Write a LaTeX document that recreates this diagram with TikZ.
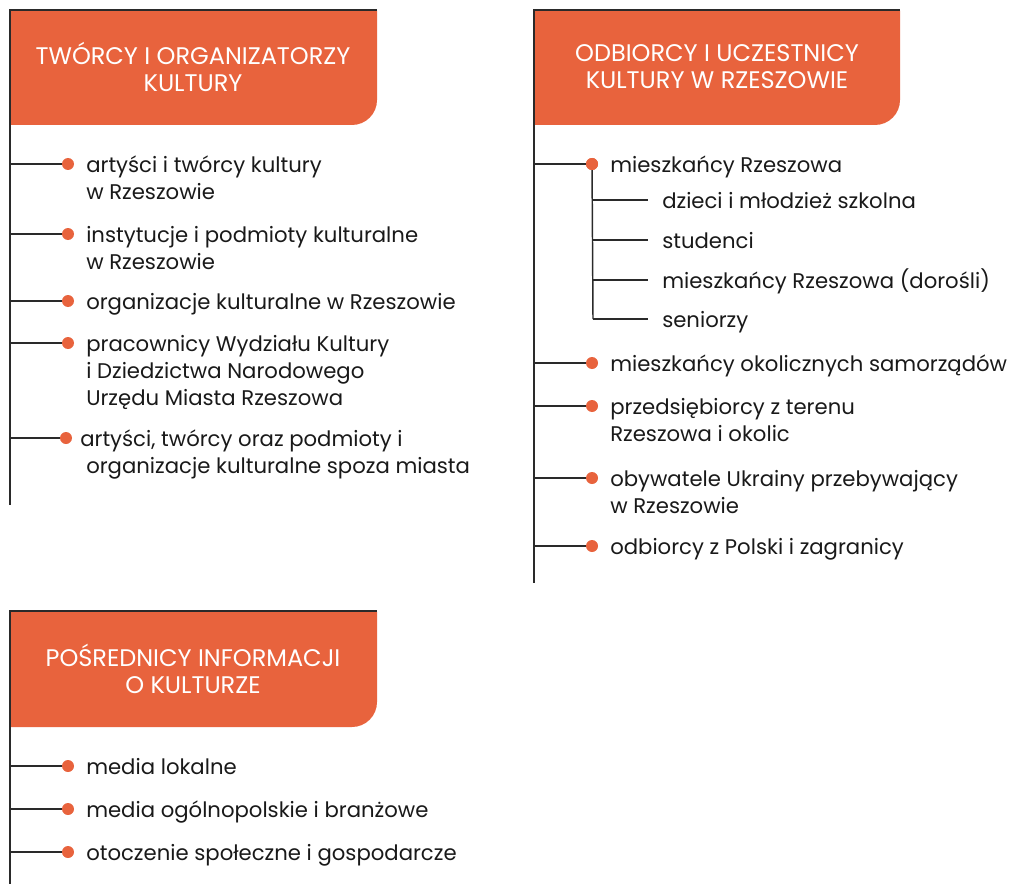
\documentclass[tikz,border=0pt]{standalone}
\usepackage{fontspec}
\setmainfont{Poppins}
\usetikzlibrary{positioning, calc}
\definecolor{hdrorange}{HTML}{E8633D}
\definecolor{linegray}{HTML}{2A2A2A}
\tikzset{
  frameline/.style={draw=linegray, line width=1.5pt},
  branch/.style={draw=linegray, line width=1.1pt},
  header/.style={text=white, align=center, inner sep=0pt, font=\fontsize{18}{20.25}\selectfont},
  item/.style={anchor=base west, align=left, inner sep=0pt, yshift=-2pt, text=black!90, font=\fontsize{15.9}{20.25}\selectfont},
  dot/.style={circle, fill=hdrorange, minimum size=9pt, inner sep=0pt}
}
\begin{document}
\begin{tikzpicture}[x=0.75pt, y=-0.75pt]
\useasboundingbox (0,0) rectangle (1012,884);
% Group A: creators and organisers
\fill[hdrorange] (10,11) -- (377,11) -- (377,100) arc[start angle=0, end angle=90, radius=25] -- (10,125) -- cycle;
\coordinate (atop) at (10,10);
\coordinate (atopr) at (377,10);
\coordinate (aend) at (10,505);
\draw[frameline] (atopr) -- (atop) -- (aend);
\node[header] (ahead) at (193,67) {TWÓRCY I ORGANIZATORZY\\KULTURY};
\node[dot] (ad1) at (68,164) {};
\node[dot] (ad2) at (68,234) {};
\node[dot] (ad3) at (68,301) {};
\node[dot] (ad4) at (68,343) {};
\node[dot] (ad5) at (66,438) {};
\foreach \i/\y in {1/164,2/234,3/301,4/343,5/438}
  \draw[branch] (10,\y) -- (ad\i);
% base anchor sits on the last line of a wrapped text
\node[item] (at1) at (86,197) {artyści i twórcy kultury\\w Rzeszowie};
\node[item] (at2) at (86,267) {instytucje i podmioty kulturalne\\w Rzeszowie};
\node[item] (at3) at (86,307) {organizacje kulturalne w Rzeszowie};
\node[item] (at4) at (86,403) {pracownicy Wydziału Kultury\\i Dziedzictwa Narodowego\\Urzędu Miasta Rzeszowa};
\node[item] (at5) at (80,471) {artyści, twórcy oraz podmioty i\\\hspace{4.5pt}organizacje kulturalne spoza miasta};
% Group B: audiences and participants
\fill[hdrorange] (534,11) -- (900,11) -- (900,100) arc[start angle=0, end angle=90, radius=25] -- (534,125) -- cycle;
\coordinate (btop) at (534,10);
\coordinate (btopr) at (900,10);
\coordinate (bend) at (534,583);
\draw[frameline] (btopr) -- (btop) -- (bend);
\node[header] (bhead) at (717,67) {ODBIORCY I UCZESTNICY\\KULTURY W RZESZOWIE};
\node[dot] (bd1) at (592,164) {};
\node[dot] (bd2) at (592,363) {};
\node[dot] (bd3) at (592,406) {};
\node[dot] (bd4) at (592,478) {};
\node[dot] (bd5) at (592,546) {};
\foreach \i/\y in {1/164,2/363,3/406,4/478,5/546}
  \draw[branch] (534,\y) -- (bd\i);
\node[item] (bt1) at (610,170) {mieszkańcy Rzeszowa};
\node[item] (bt2) at (610,369) {mieszkańcy okolicznych samorządów};
\node[item] (bt3) at (610,439) {przedsiębiorcy z terenu\\Rzeszowa i okolic};
\node[item] (bt4) at (610,511) {obywatele Ukrainy przebywający\\w Rzeszowie};
\node[item] (bt5) at (610,552) {odbiorcy z Polski i zagranicy};
% residents split by age
\coordinate (bsub) at (593,319);
\draw[branch] (bd1.center) -- (bsub);
\foreach \j/\y in {1/200,2/240,3/280,4/319}
  \draw[branch] (593,\y) -- (648,\y);
\node[item] (bs1) at (662,206) {dzieci i młodzież szkolna};
\node[item] (bs2) at (662,246) {studenci};
\node[item] (bs3) at (662,286) {mieszkańcy Rzeszowa (dorośli)};
\node[item] (bs4) at (662,325) {seniorzy};
\node[dot] at (bd1) {};
% Group C: information intermediaries
\fill[hdrorange] (10,612) -- (377,612) -- (377,702) arc[start angle=0, end angle=90, radius=25] -- (10,727) -- cycle;
\coordinate (ctop) at (10,611);
\coordinate (ctopr) at (377,611);
\coordinate (cend) at (10,884);
\draw[frameline] (ctopr) -- (ctop) -- (cend);
\node[header] (chead) at (193,669) {POŚREDNICY INFORMACJI\\O KULTURZE};
\node[dot] (cd1) at (68,766) {};
\node[dot] (cd2) at (68,809) {};
\node[dot] (cd3) at (68,852) {};
\foreach \i/\y in {1/766,2/809,3/852}
  \draw[branch] (10,\y) -- (cd\i);
\node[item] (ct1) at (86,772) {media lokalne};
\node[item] (ct2) at (86,815) {media ogólnopolskie i branżowe};
\node[item] (ct3) at (86,858) {otoczenie społeczne i gospodarcze};
\end{tikzpicture}
\end{document}
